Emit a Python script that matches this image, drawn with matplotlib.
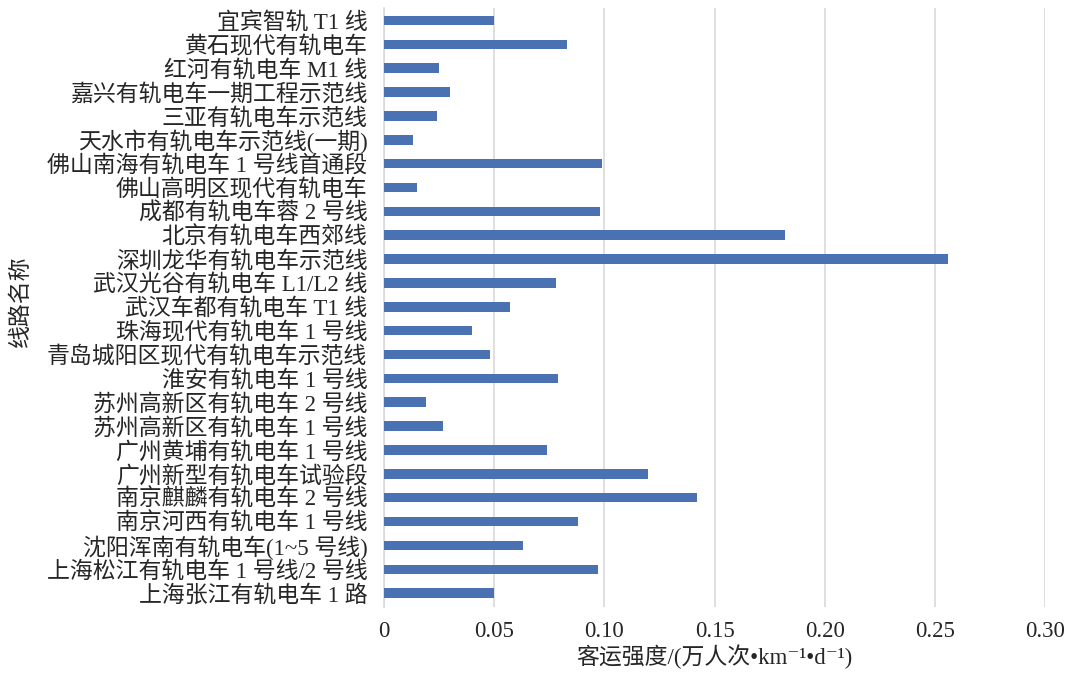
import matplotlib
matplotlib.use("Agg")
import matplotlib.pyplot as plt

lines = [
    "宜宾智轨 T1 线",
    "黄石现代有轨电车",
    "红河有轨电车 M1 线",
    "嘉兴有轨电车一期工程示范线",
    "三亚有轨电车示范线",
    "天水市有轨电车示范线(一期)",
    "佛山南海有轨电车 1 号线首通段",
    "佛山高明区现代有轨电车",
    "成都有轨电车蓉 2 号线",
    "北京有轨电车西郊线",
    "深圳龙华有轨电车示范线",
    "武汉光谷有轨电车 L1/L2 线",
    "武汉车都有轨电车 T1 线",
    "珠海现代有轨电车 1 号线",
    "青岛城阳区现代有轨电车示范线",
    "淮安有轨电车 1 号线",
    "苏州高新区有轨电车 2 号线",
    "苏州高新区有轨电车 1 号线",
    "广州黄埔有轨电车 1 号线",
    "广州新型有轨电车试验段",
    "南京麒麟有轨电车 2 号线",
    "南京河西有轨电车 1 号线",
    "沈阳浑南有轨电车(1~5 号线)",
    "上海松江有轨电车 1 号线/2 号线",
    "上海张江有轨电车 1 路",
]
intensity = [
    0.050, 0.083, 0.025, 0.030, 0.024, 0.013, 0.099, 0.015, 0.098, 0.182,
    0.256, 0.078, 0.057, 0.040, 0.048, 0.079, 0.019, 0.027, 0.074, 0.120,
    0.142, 0.088, 0.063, 0.097, 0.050,
]
xticks = [0, 0.05, 0.10, 0.15, 0.20, 0.25, 0.30]
xticklabels = ["0", "0.05", "0.10", "0.15", "0.20", "0.25", "0.30"]

FAM = ["Liberation Serif", "Noto Sans CJK SC", "DejaVu Serif"]
plt.rcParams["font.family"] = FAM
TXT = "#262626"

fig = plt.figure(figsize=(10.8, 6.75), dpi=100)
ax = fig.add_axes([384 / 1080, 1 - 607 / 675, (1045 - 384) / 1080, (607 - 8) / 675])

ypos = list(range(len(lines)))
ax.barh(ypos, intensity, height=0.4, color="#4A72B2", zorder=3)
ax.set_ylim(len(lines) - 0.42, -0.52)
ax.set_xlim(0, 0.30)
ax.set_yticks(ypos)
ax.set_yticklabels(lines, fontsize=16.5, color=TXT)
ax.set_xticks(xticks)
ax.set_xticklabels(xticklabels, fontsize=16.5, color=TXT)
ax.tick_params(axis="both", length=0)
ax.tick_params(axis="y", pad=12)
ax.tick_params(axis="x", pad=10)
ax.grid(axis="x", color="#d9d9d9", linewidth=1.2, zorder=0)
for s in ["top", "right", "bottom"]:
    ax.spines[s].set_visible(False)
ax.spines["left"].set_color("#d9d9d9")
ax.spines["left"].set_linewidth(1.2)

ax.set_xlabel("客运强度/(万人次•km⁻¹•d⁻¹)", fontsize=16.5, color=TXT, labelpad=2)
fig.text(21 / 1080, 1 - 301 / 675, "线路名称", rotation=90, fontsize=16.5,
         color=TXT, ha="center", va="center")

fig.savefig("out.png", dpi=100, facecolor="white")
